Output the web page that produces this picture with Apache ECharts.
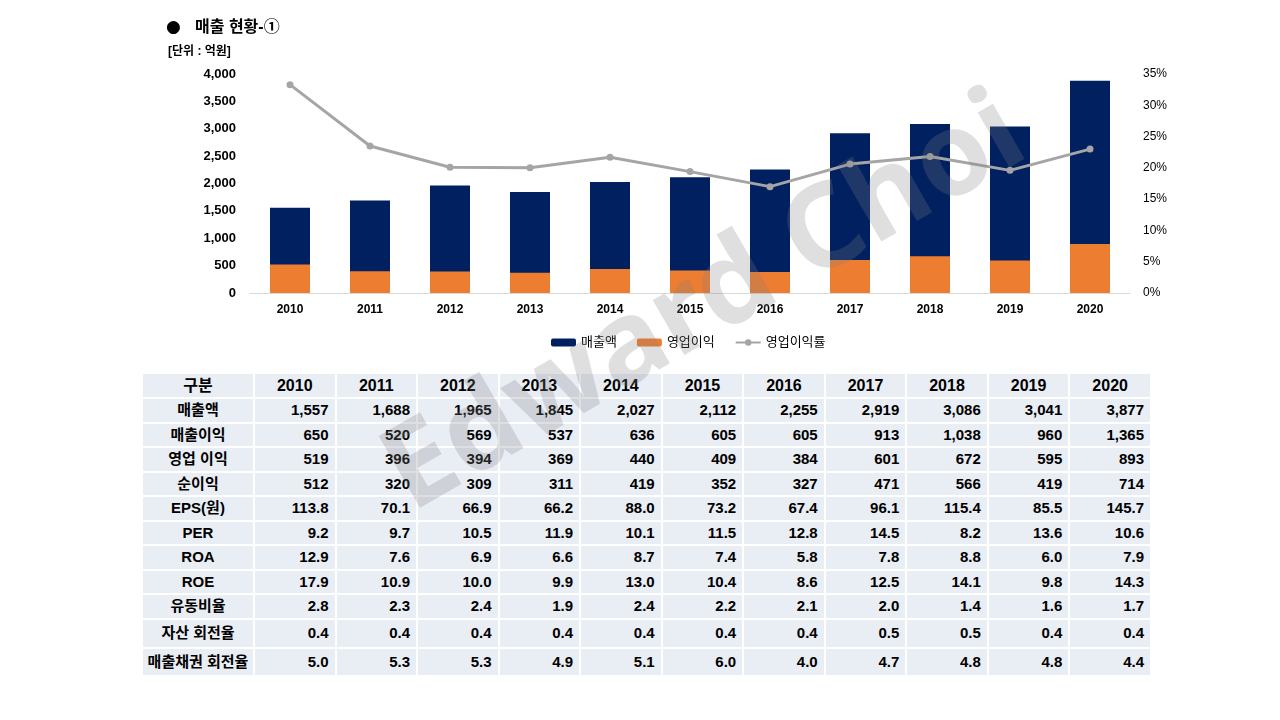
<!DOCTYPE html>
<html lang="ko">
<head>
    <meta charset="UTF-8">
    <title>매출 현황</title>
    <style>
        html, body {
            margin: 0;
            padding: 0;
            background: #fff;
        }
        #page {
            position: relative;
            width: 1280px;
            height: 720px;
            overflow: hidden;
        }
        #main {
            position: absolute;
            left: 0;
            top: 0;
            width: 1280px;
            height: 720px;
            z-index: 2;
        }
        #tbl {
            position: absolute;
            left: 143px;
            top: 374px;
            width: 1009px;
            border-collapse: separate;
            border-spacing: 0;
            table-layout: fixed;
            z-index: 1;
            font-family: "Liberation Sans", "Noto Sans CJK KR", sans-serif;
            font-size: 15px;
            font-weight: bold;
            color: #000;
        }
        #tbl td {
            box-sizing: border-box;
            background: #e9edf4;
            border-right: 2px solid #fff;
            border-bottom: 2px solid #fff;
            padding: 0 6px 0 0;
            text-align: right;
            line-height: 18px;
        }
        #tbl tr { height: 24.5px; }
        #tbl tr.head { height: 25px; }
        #tbl tr.head td { font-size: 16px; }
        #tbl tr.t1 { height: 29px; }
        #tbl tr.t2 { height: 28px; }
        #tbl td.lab, #tbl tr.head td {
            text-align: center;
            padding: 0;
        }
        #tbl td.lab { width: 112px; }
    </style>
</head>
<body>
<div id="page">
    <table id="tbl"></table>
    <div id="main"></div>
</div>
<script src="https://cdn.jsdelivr.net/npm/echarts@6/dist/echarts.min.js"></script>
<script>
    // 연도
    const years = ['2010','2011','2012','2013','2014','2015','2016','2017','2018','2019','2020'];

    // 표 데이터
    const sales       = [1557, 1688, 1965, 1845, 2027, 2112, 2255, 2919, 3086, 3041, 3877];
    const grossProfit = [650, 520, 569, 537, 636, 605, 605, 913, 1038, 960, 1365];
    const opProfit    = [519, 396, 394, 369, 440, 409, 384, 601, 672, 595, 893];
    const netProfit   = [512, 320, 309, 311, 419, 352, 327, 471, 566, 419, 714];
    const eps         = [113.8, 70.1, 66.9, 66.2, 88.0, 73.2, 67.4, 96.1, 115.4, 85.5, 145.7];
    const per         = [9.2, 9.7, 10.5, 11.9, 10.1, 11.5, 12.8, 14.5, 8.2, 13.6, 10.6];
    const roa         = [12.9, 7.6, 6.9, 6.6, 8.7, 7.4, 5.8, 7.8, 8.8, 6.0, 7.9];
    const roe         = [17.9, 10.9, 10.0, 9.9, 13.0, 10.4, 8.6, 12.5, 14.1, 9.8, 14.3];
    const curRatio    = [2.8, 2.3, 2.4, 1.9, 2.4, 2.2, 2.1, 2.0, 1.4, 1.6, 1.7];
    const assetTurn   = [0.4, 0.4, 0.4, 0.4, 0.4, 0.4, 0.4, 0.5, 0.5, 0.4, 0.4];
    const recvTurn    = [5.0, 5.3, 5.3, 4.9, 5.1, 6.0, 4.0, 4.7, 4.8, 4.8, 4.4];

    // 영업이익률 (%)
    const opMargin = [33.3, 23.5, 20.1, 20.0, 21.7, 19.4, 17.0, 20.6, 21.8, 19.6, 23.0];

    // 좌/우 축 눈금
    const leftTicks  = [0, 500, 1000, 1500, 2000, 2500, 3000, 3500, 4000];
    const rightTicks = [0, 5, 10, 15, 20, 25, 30, 35];

    /*표 그리기*/
    const rows = [
        ['매출액', sales, 0],
        ['매출이익', grossProfit, 0],
        ['영업 이익', opProfit, 0],
        ['순이익', netProfit, 0],
        ['EPS(원)', eps, 1],
        ['PER', per, 1],
        ['ROA', roa, 1],
        ['ROE', roe, 1],
        ['유동비율', curRatio, 1],
        ['자산 회전율', assetTurn, 1, 't1'],
        ['매출채권 회전율', recvTurn, 1, 't2']
    ];
    const fmt = (v, d) => d ? v.toFixed(d) : v.toLocaleString('en-US');
    let html = '<tr class="head"><td class="lab">구분</td>' +
        years.map(y => '<td>' + y + '</td>').join('') + '</tr>';
    rows.forEach(r => {
        html += '<tr class="' + (r[3] || '') + '"><td class="lab">' + r[0] + '</td>' +
            r[1].map(v => '<td>' + fmt(v, r[2]) + '</td>').join('') + '</tr>';
    });
    document.getElementById('tbl').innerHTML = html;

    /*차트*/
    const myChart = echarts.init(document.getElementById('main'));
    const FONT = '"Liberation Sans", "Noto Sans CJK KR", sans-serif';

    const option = {
        backgroundColor: 'transparent',
        textStyle: {fontFamily: FONT},
        title: [
            {
                text: '●',
                left: 166, top: 19, padding: 0,
                textStyle: {fontSize: 17, color: '#000', fontFamily: 'DejaVu Sans'}
            },
            {
                text: '매출 현황-①',
                left: 195, top: 20, padding: 0,
                textStyle: {fontSize: 16, fontWeight: 'bold', color: '#000', fontFamily: FONT}
            },
            {
                text: '[단위 : 억원]',
                left: 168, top: 46, padding: 0,
                textStyle: {fontSize: 12, fontWeight: 'bold', color: '#000', fontFamily: FONT}
            }
        ],
        legend: {
            data: ['매출액', '영업이익', '영업이익률'],
            top: 331,
            left: 546,
            itemWidth: 25,
            itemHeight: 8,
            itemGap: 20,
            textStyle: {fontSize: 13, color: '#000', fontFamily: FONT}
        },
        grid: {left: 250, right: 150, top: 74, bottom: 427},
        xAxis: {
            type: 'category',
            data: years,
            axisTick: {show: false},
            axisLine: {lineStyle: {color: '#d9d9d9', width: 1}},
            axisLabel: {fontSize: 12, fontWeight: 'bold', color: '#000', margin: 11}
        },
        yAxis: [
            {
                type: 'value',
                min: leftTicks[0],
                max: leftTicks[leftTicks.length - 1],
                interval: leftTicks[1] - leftTicks[0],
                splitLine: {show: false},
                axisLabel: {
                    fontSize: 13, fontWeight: 'bold', color: '#000', margin: 14,
                    formatter: v => v.toLocaleString('en-US')
                }
            },
            {
                type: 'value',
                min: rightTicks[0],
                max: rightTicks[rightTicks.length - 1],
                interval: rightTicks[1] - rightTicks[0],
                splitLine: {show: false},
                axisLabel: {fontSize: 12, color: '#000', margin: 13, formatter: '{value}%'}
            }
        ],
        series: [
            {
                name: '매출액',
                type: 'bar',
                data: sales,
                barWidth: 40,
                barGap: '-100%',
                itemStyle: {color: '#002060'}
            },
            {
                name: '영업이익',
                type: 'bar',
                data: opProfit,
                barWidth: 40,
                itemStyle: {color: '#ed7d31'}
            },
            {
                name: '영업이익률',
                type: 'line',
                yAxisIndex: 1,
                data: opMargin,
                symbol: 'circle',
                symbolSize: 7,
                lineStyle: {color: '#a5a5a5', width: 3},
                itemStyle: {color: '#a5a5a5'}
            }
        ],
        // 워터마크
        graphic: [
            {
                type: 'text',
                z: 100,
                x: 705, y: 305,
                rotation: 30 * Math.PI / 180,
                style: {
                    text: 'Edward Choi',
                    font: 'bold 116px "Noto Sans", sans-serif',
                    fill: 'rgba(128,128,128,0.25)',
                    align: 'center',
                    verticalAlign: 'middle'
                }
            }
        ]
    };

    myChart.setOption(option);
</script>
</body>
</html>
